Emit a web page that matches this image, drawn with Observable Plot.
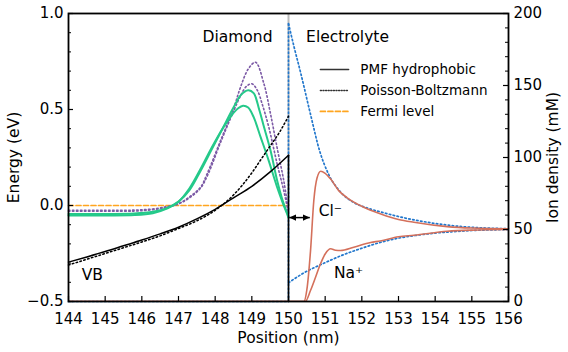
<!DOCTYPE html>
<html><head><meta charset="utf-8">
<script src="https://cdn.jsdelivr.net/npm/d3@7"></script>
<script src="https://cdn.jsdelivr.net/npm/@observablehq/plot@0.6"></script>
<style>html,body{margin:0;padding:0;overflow:hidden;background:#fff} svg{display:block;font-family:"DejaVu Sans",sans-serif}</style>
</head><body><div id="chart"></div><script>
// ---- axes / ticks ----
const xTicks = [144,145,146,147,148,149,150,151,152,153,154,155,156];
const eTicks = [-0.5, 0, 0.5, 1.0];
const eMinor = [-0.4,-0.3,-0.2,-0.1,0.1,0.2,0.3,0.4,0.6,0.7,0.8,0.9];
const ionTicks = [0, 50, 100, 150, 200];
const ionMinor = [10,20,30,40,60,70,80,90,110,120,130,140,160,170,180,190];

// ---- energy curves (eV) ----
const pmfX = [144,144.5,145,145.5,146,146.5,147,147.5,148,148.5,149,149.5,150];
const pmfE = [-0.295,-0.268,-0.24,-0.21,-0.18,-0.148,-0.113,-0.07,-0.02,0.04,0.10,0.175,0.262];
const pmfWallX = [150, 150];
const pmfWallE = [0.262, -0.5];

const pbX = [144,144.5,145,145.5,146,146.5,147,147.5,148,148.5,149,149.25,149.5,149.75,150];
const pbE = [-0.31,-0.28,-0.25,-0.22,-0.19,-0.158,-0.12,-0.08,-0.025,0.055,0.17,0.24,0.31,0.38,0.465];

const fermiX = [144, 150];
const fermiE = [0, 0];

const greenAX = [144,145,145.8,146.3,146.7,147,147.3,147.6,147.9,148.2,148.5,148.7,148.9,149.05,149.2,149.33,149.51,149.69,149.85,149.92,150];
const greenAE = [-0.044,-0.044,-0.042,-0.033,-0.012,0.02,0.08,0.18,0.29,0.40,0.51,0.575,0.60,0.585,0.50,0.41,0.286,0.13,0.02,-0.017,-0.055];
const greenBX = [144,145,145.8,146.3,146.7,147,147.3,147.6,147.9,148.2,148.45,148.62,148.76,148.9,149.05,149.24,149.46,149.69,149.85,149.96,150];
const greenBE = [-0.052,-0.052,-0.05,-0.04,-0.015,0.02,0.09,0.19,0.30,0.40,0.47,0.505,0.52,0.51,0.46,0.356,0.234,0.095,0.01,-0.043,-0.065];

const purpleAX = [144,145,145.8,146.3,146.7,147,147.3,147.6,147.78,148.15,148.51,148.69,148.9,149.1,149.33,149.51,149.69,149.87,150];
const purpleAE = [-0.025,-0.025,-0.024,-0.018,-0.005,0.01,0.045,0.095,0.165,0.34,0.51,0.616,0.71,0.746,0.634,0.477,0.30,0.13,-0.03];
const purpleBX = [144,145,145.8,146.3,146.7,147,147.3,147.6,147.8,148.15,148.5,148.7,148.85,149.0,149.15,149.28,149.46,149.69,149.87,150];
const purpleBE = [-0.03,-0.03,-0.029,-0.022,-0.008,0.008,0.04,0.09,0.16,0.33,0.49,0.575,0.62,0.634,0.60,0.53,0.41,0.217,0.078,-0.04];

// ---- ion densities (mM, right axis) ----
const diamondIonX = [144, 150, 150];          // zero density inside diamond, then wall
const diamondIonC = [0, 0, 193];
const clPbX = [150,150.15,150.33,150.6,150.85,151.1,151.42,151.8,152.2,152.5,153,153.5,154,154.5,155,155.5,156];
const clPbC = [193,177,159,130,104.5,88,76,68.5,64.5,62.3,59,56.3,54.2,52.6,51.5,50.9,50.5];
const naPbX = [150,150.33,150.5,150.7,150.87,151,151.5,152,152.5,153,153.5,154,154.5,155,155.5,156];
const naPbC = [13,18.5,21,23.5,25.5,27,32.5,37,41,44,46,47.5,48.5,49.3,49.7,50];
const clPmfX = [144,150.42,150.5,150.6,150.69,150.78,150.88,151.0,151.15,151.37,151.6,152.05,152.5,153.0,153.42,154.33,155,156];
const clPmfC = [0,0,8,35,70,86,90.5,89,85,77,72,65.5,61,57,55,52,51,50.5];
const naPmfX = [144,150.46,150.6,150.74,150.87,151.0,151.15,151.28,151.42,151.78,152.24,152.5,153.0,153.42,154.33,155,156];
const naPmfC = [0,0,7.6,17,26,33,36.6,35.6,35.4,37.7,41,42,45,46,48.8,49.6,50];

// ---- annotations ----
const labels = ["Diamond", "Electrolyte", "VB", "Cl\u207B", "Na\u207A"];
const labelX = [148.61, 151.61, 144.65, 151.14, 151.64];
const labelY = [0.875, 0.875, -0.36, -0.03, -0.35];
const arrowX = [150.02, 150.58];
const arrowY = -0.063;
const legendLabels = ["PMF hydrophobic", "Poisson-Boltzmann", "Fermi level"];
const legendY = [0.708, 0.599, 0.49];
const legendX = [150.87, 151.64, 151.96];

// ---- helpers ----
const ionToE = c => -0.5 + c * 1.5 / 200;
const pts = (xs, ys) => xs.map((x, i) => ({x, y: ys[i]}));
const ionPts = (xs, cs) => xs.map((x, i) => ({x, y: ionToE(cs[i])}));

const BLUE = "#2277cc", RED = "#d4705b", GREEN = "#25c98a", PURPLE = "#7c5aa6", ORANGE = "#ffa51f";
const DOT = "1.5,2.5";

const headMarker = (color) => {
  const m = d3.create("svg:marker")
    .attr("viewBox", "-10 -5 10 10")
    .attr("markerUnits", "userSpaceOnUse")
    .attr("markerWidth", 7).attr("markerHeight", 7)
    .attr("orient", "auto-start-reverse")
    .attr("fill", color).attr("stroke", "none");
  m.append("path").attr("d", "M-10,-4.5L0,0L-10,4.5Z");
  return m.node();
};

const chart = Plot.plot({
  width: 568, height: 352,
  marginLeft: 68, marginRight: 60, marginTop: 13, marginBottom: 51,
  x: {domain: [144, 156]},
  y: {domain: [-0.5, 1.0]},
  style: {fontFamily: "DejaVu Sans", fontSize: "15px", background: "#fff"},
  marks: [
    Plot.ruleX([150], {stroke: "#bbbbbb", strokeWidth: 2}),
    // ion densities
    Plot.line(ionPts(diamondIonX, diamondIonC), {x: "x", y: "y", stroke: BLUE, strokeWidth: 1.7, strokeDasharray: DOT}),
    Plot.line(ionPts(clPbX, clPbC), {x: "x", y: "y", stroke: BLUE, strokeWidth: 1.7, strokeDasharray: DOT, curve: "monotone-x"}),
    Plot.line(ionPts(naPbX, naPbC), {x: "x", y: "y", stroke: BLUE, strokeWidth: 1.7, strokeDasharray: DOT, curve: "monotone-x"}),
    Plot.line(ionPts(clPmfX, clPmfC), {x: "x", y: "y", stroke: RED, strokeWidth: 1.6, curve: "monotone-x", clip: true}),
    Plot.line(ionPts(naPmfX, naPmfC), {x: "x", y: "y", stroke: RED, strokeWidth: 1.6, curve: "monotone-x", clip: true}),
    // energies
    Plot.line(pts(fermiX, fermiE), {x: "x", y: "y", stroke: ORANGE, strokeWidth: 1.7, strokeDasharray: "5,2.5"}),
    Plot.line(pts(purpleAX, purpleAE), {x: "x", y: "y", stroke: PURPLE, strokeWidth: 1.6, strokeDasharray: DOT, curve: "catmull-rom"}),
    Plot.line(pts(purpleBX, purpleBE), {x: "x", y: "y", stroke: PURPLE, strokeWidth: 1.6, strokeDasharray: DOT, curve: "catmull-rom"}),
    Plot.line(pts(greenAX, greenAE), {x: "x", y: "y", stroke: GREEN, strokeWidth: 2, curve: "catmull-rom"}),
    Plot.line(pts(greenBX, greenBE), {x: "x", y: "y", stroke: GREEN, strokeWidth: 2, curve: "catmull-rom"}),
    Plot.line(pts(pbX, pbE), {x: "x", y: "y", stroke: "black", strokeWidth: 1.5, strokeDasharray: DOT, curve: "monotone-x"}),
    Plot.line(pts(pmfX, pmfE), {x: "x", y: "y", stroke: "black", strokeWidth: 1.5, curve: "monotone-x"}),
    Plot.line(pts(pmfWallX, pmfWallE), {x: "x", y: "y", stroke: "black", strokeWidth: 1.5}),
    // double arrow
    Plot.link([0], {x1: () => arrowX[0], x2: () => arrowX[1], y1: () => arrowY, y2: () => arrowY,
      stroke: "black", strokeWidth: 1.5, markerStart: headMarker, markerEnd: headMarker}),
    // annotations
    Plot.text(labels, {x: (d, i) => labelX[i], y: (d, i) => labelY[i], text: d => d, fontSize: 15.5, fill: "black"}),
    // legend
    Plot.line([[legendX[0], legendY[0]], [legendX[1], legendY[0]]], {stroke: "#333", strokeWidth: 1.5}),
    Plot.line([[legendX[0], legendY[1]], [legendX[1], legendY[1]]], {stroke: "#333", strokeWidth: 1.5, strokeDasharray: "1,1.6"}),
    Plot.line([[legendX[0], legendY[2]], [legendX[1], legendY[2]]], {stroke: ORANGE, strokeWidth: 1.7, strokeDasharray: "5,2.5"}),
    Plot.text(legendLabels, {x: () => legendX[2], y: (d, i) => legendY[i], text: d => d, textAnchor: "start", fontSize: 13.5, fill: "black"}),
    // ticks (inward)
    Plot.tickX(xTicks, {x: d => d, insetTop: 283, stroke: "black", strokeWidth: 1.2}),
    Plot.tickY(eTicks, {y: d => d, insetRight: 435, stroke: "black", strokeWidth: 1.2}),
    Plot.tickY(eMinor, {y: d => d, insetRight: 437, stroke: "black", strokeWidth: 1}),
    Plot.tickY(ionTicks.map(ionToE), {y: d => d, insetLeft: 435, stroke: "black", strokeWidth: 1.2}),
    Plot.tickY(ionMinor.map(ionToE), {y: d => d, insetLeft: 437, stroke: "black", strokeWidth: 1}),
    // tick labels
    Plot.axisX({ticks: xTicks, tickSize: 0, tickPadding: 12, tickFormat: d => String(d), label: null}),
    Plot.axisY({ticks: eTicks, tickSize: 0, tickPadding: 5, tickFormat: d3.format(".1f"), label: null}),
    Plot.axisY({anchor: "right", ticks: ionTicks.map(ionToE), tickSize: 0, tickPadding: 5,
      tickFormat: e => String(Math.round((e + 0.5) * 200 / 1.5)), label: null}),
    // axis titles
    Plot.text(["Position (nm)"], {frameAnchor: "bottom", dy: 37, lineAnchor: "middle", textAnchor: "middle", text: d => d, fontSize: 15.5}),
    Plot.text(["Energy (eV)"], {frameAnchor: "left", dx: -54, rotate: -90, lineAnchor: "middle", textAnchor: "middle", text: d => d, fontSize: 15.5}),
    Plot.text(["Ion density (mM)"], {frameAnchor: "right", dx: 45, rotate: -90, lineAnchor: "middle", textAnchor: "middle", text: d => d, fontSize: 15.5}),
    Plot.frame({stroke: "black", strokeWidth: 1.8})
  ]
});
document.getElementById("chart").appendChild(chart);
</script></body></html>
